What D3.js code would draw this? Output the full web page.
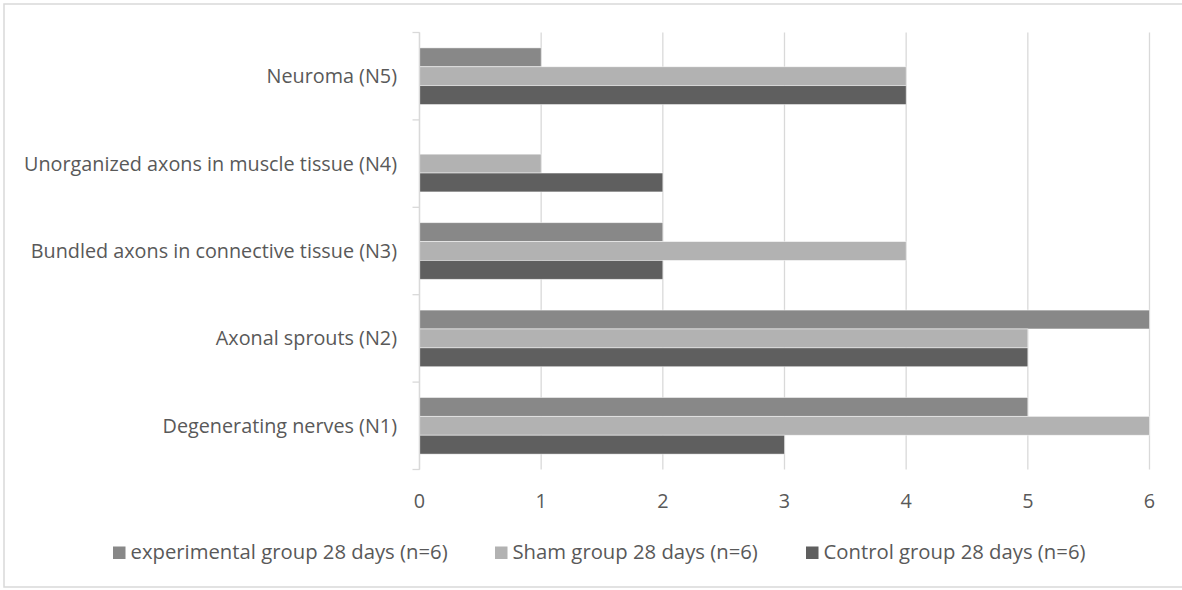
<!DOCTYPE html>
<html>
<head>
<meta charset="utf-8">
<script src="https://cdn.jsdelivr.net/npm/d3@7"></script>
<style>
  html, body { margin: 0; padding: 0; background: #fff; }
  svg { display: block; }
  text { font-family: "Open Sans", Lato, sans-serif; fill: #595959; }
</style>
</head>
<body>
<svg id="chart" width="1182" height="590"></svg>
<script>
// Categories, listed top to bottom
const categories = [
  "Neuroma (N5)",
  "Unorganized axons in muscle tissue (N4)",
  "Bundled axons in connective tissue (N3)",
  "Axonal sprouts (N2)",
  "Degenerating nerves (N1)"
];
const seriesNames = [
  "experimental group 28 days (n=6)",
  "Sham group 28 days (n=6)",
  "Control group 28 days (n=6)"
];
const experimental = [1, 0, 2, 6, 5];
const sham = [4, 1, 4, 5, 6];
const control = [4, 2, 2, 5, 3];
const xTicks = [0, 1, 2, 3, 4, 5, 6];

const colors = ["#888888", "#b2b2b2", "#5f5f5f"];
const seriesValues = [experimental, sham, control];
const fontSize = 19.8;

const svg = d3.select("#chart");

// Outer chart frame
svg.append("rect")
  .attr("x", 4).attr("y", 4).attr("width", 1190).attr("height", 583)
  .attr("fill", "none").attr("stroke", "#d9d9d9").attr("stroke-width", 1.5);

const x = d3.scaleLinear().domain([0, 6]).range([419.5, 1149.5]);
const y = d3.scaleBand().domain(categories).range([32.5, 469.5]).padding(0);
const inner = d3.scaleBand().domain(seriesNames)
  .range([y.bandwidth() * 0.176, y.bandwidth() * 0.824]).padding(0);

// Vertical gridlines
svg.append("g").selectAll("line")
  .data(xTicks)
  .join("line")
  .attr("x1", d => x(d)).attr("x2", d => x(d))
  .attr("y1", 32.5).attr("y2", 469.5)
  .attr("stroke", "#d9d9d9").attr("stroke-width", 1.3);

// Bars
const rows = categories.map((c, i) => ({
  cat: c,
  vals: seriesNames.map((s, j) => ({ s, j, v: seriesValues[j][i] }))
}));

const groups = svg.append("g").selectAll("g")
  .data(rows)
  .join("g")
  .attr("transform", d => `translate(0,${y(d.cat)})`);

groups.selectAll("rect")
  .data(d => d.vals.filter(e => e.v > 0))
  .join("rect")
  .attr("x", x(0))
  .attr("y", d => inner(d.s))
  .attr("width", d => x(d.v) - x(0))
  .attr("height", inner.bandwidth())
  .attr("fill", d => colors[d.j])
  .attr("stroke", "#ffffff").attr("stroke-opacity", 0.6).attr("stroke-width", 0.8);

// Y axis line with ticks between categories
const yAxis = svg.append("g");
yAxis.append("line")
  .attr("x1", x(0)).attr("x2", x(0))
  .attr("y1", 32.5).attr("y2", 469.5)
  .attr("stroke", "#d9d9d9").attr("stroke-width", 1.3);
const boundaries = categories.map(c => y(c)).concat([y.range()[1]]);
yAxis.selectAll("line.tick")
  .data(boundaries)
  .join("line")
  .attr("class", "tick")
  .attr("x1", x(0) - 7).attr("x2", x(0))
  .attr("y1", d => d).attr("y2", d => d)
  .attr("stroke", "#d9d9d9").attr("stroke-width", 1.3);

// Category labels
svg.append("g").selectAll("text")
  .data(categories)
  .join("text")
  .attr("x", 397)
  .attr("y", d => y(d) + y.bandwidth() / 2)
  .attr("dy", "0.35em")
  .attr("text-anchor", "end")
  .attr("font-size", fontSize)
  .text(d => d);

// X tick labels
svg.append("g").selectAll("text")
  .data(xTicks)
  .join("text")
  .attr("x", d => x(d))
  .attr("y", 508)
  .attr("text-anchor", "middle")
  .attr("font-size", fontSize)
  .text(d => d);

// Legend
const legendX = [113, 495, 806];
const legend = svg.append("g").selectAll("g")
  .data(seriesNames)
  .join("g")
  .attr("transform", (d, i) => `translate(${legendX[i]},546.5)`);
legend.append("rect")
  .attr("width", 12.5).attr("height", 12.5)
  .attr("fill", (d, i) => colors[i]);
legend.append("text")
  .attr("x", 17.5).attr("y", 12)
  .attr("font-size", 20.3)
  .text(d => d);
</script>
</body>
</html>
